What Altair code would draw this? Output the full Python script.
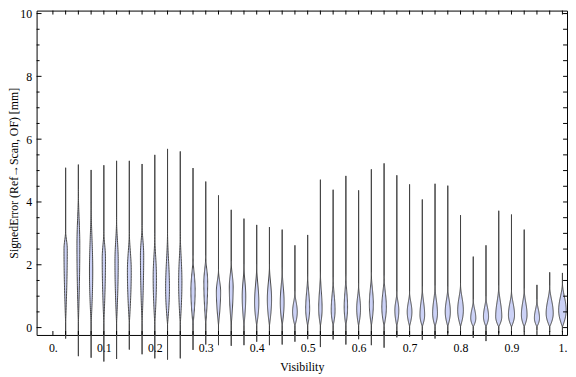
import numpy as np
import pandas as pd
import altair as alt

# ---- data ----
visibility = [0.025, 0.05, 0.075, 0.1, 0.125, 0.15, 0.175, 0.2, 0.225, 0.25,
              0.275, 0.3, 0.325, 0.35, 0.375, 0.4, 0.425, 0.45, 0.475, 0.5,
              0.525, 0.55, 0.575, 0.6, 0.625, 0.65, 0.675, 0.7, 0.725, 0.75,
              0.775, 0.8, 0.825, 0.85, 0.875, 0.9, 0.925, 0.95, 0.975, 1.0]
err_max = [5.09, 5.19, 5.02, 5.17, 5.31, 5.31, 5.21, 5.50, 5.69, 5.61,
           5.08, 4.65, 4.21, 3.75, 3.47, 3.27, 3.20, 3.12, 2.62, 2.95,
           4.71, 4.39, 4.83, 4.37, 5.04, 5.23, 4.85, 4.56, 4.08, 4.58,
           4.52, 3.58, 2.26, 2.62, 3.72, 3.60, 3.12, 1.36, 1.76, 1.74]
err_min = [-0.35, -0.91, -0.96, -1.08, -1.00, -0.70, -0.85, -0.98, -1.02, -0.98,
           -0.71, -0.54, -0.56, -0.58, -0.56, -0.45, -0.56, -0.54, -0.45, -0.37,
           -0.62, -0.38, -0.54, -0.37, -0.56, -0.64, -0.31, -0.29, -0.39, -0.35,
           -0.18, -0.14, -0.33, -0.43, -0.18, -0.16, -0.12, -0.10, -0.14, -0.14]
body_low = [0.15, 0.12, 0.12, 0.12, 0.12, 0.12, 0.12, 0.10, 0.10, 0.10,
            0.08, 0.08, 0.08, 0.08, 0.06, 0.06, 0.06, 0.06, 0.05, 0.05,
            0.05, 0.05, 0.05, 0.05, 0.05, 0.04, 0.04, 0.04, 0.03, 0.03,
            0.03, 0.03, 0.02, 0.02, 0.02, 0.02, 0.02, 0.02, 0.02, 0.02]
body_mode = [2.5, 2.6, 1.8, 2.2, 2.1, 1.8, 2.3, 1.6, 1.25, 1.45,
             1.2, 1.45, 1.15, 1.3, 1.0, 0.8, 0.9, 0.8, 0.5, 0.6,
             0.6, 0.55, 0.65, 0.6, 0.75, 0.65, 0.55, 0.5, 0.4, 0.45,
             0.5, 0.55, 0.3, 0.35, 0.35, 0.4, 0.4, 0.3, 0.45, 0.55]
body_high = [3.1, 4.4, 4.0, 3.1, 3.5, 3.1, 3.3, 3.0, 3.1, 3.1,
             2.3, 2.3, 1.85, 2.1, 2.0, 2.0, 2.0, 1.9, 1.15, 1.7,
             1.8, 1.6, 1.7, 1.4, 1.75, 1.65, 1.15, 1.15, 1.3, 1.35,
             1.3, 1.4, 0.9, 1.0, 1.35, 1.2, 1.25, 0.9, 1.35, 1.45]
peak_density = [2.3, 2.0, 2.3, 2.3, 2.3, 2.7, 2.3, 2.3, 2.7, 2.3,
                3.0, 2.7, 3.0, 2.7, 2.5, 3.0, 3.0, 2.7, 3.3, 2.8,
                2.4, 2.7, 2.4, 2.7, 2.8, 3.2, 2.8, 3.3, 3.3, 3.4,
                3.6, 4.0, 3.6, 3.6, 4.3, 4.3, 4.0, 3.6, 5.0, 5.3]

x_label_values = [0.0, 0.1, 0.2, 0.3, 0.4, 0.5, 0.6, 0.7, 0.8, 0.9, 1.0]
y_label_values = [0, 2, 4, 6, 8, 10]
x_tick_values = [0.0] + visibility
y_major_ticks = [0, 2, 4, 6, 8, 10]
y_minor_ticks = [0.5, 1, 1.5, 2.5, 3, 3.5, 4.5, 5, 5.5, 6.5, 7, 7.5, 8.5, 9, 9.5]

# ---- layout / style ----
W, H = 538, 329
X_DOMAIN = [-0.032, 1.009]
Y_DOMAIN = [-0.235, 10.094]
WIDTH_FACTOR = 0.72                       # density -> drawn pixels
PX_TO_X = (X_DOMAIN[1] - X_DOMAIN[0]) / W
FONT = "Liberation Serif"
FILL = "#ccd2f7"
EDGE = "#444444"
N_SAMPLES = 60


def half_width(y, lo, m, hi, pk):
    if y <= lo or y >= hi:
        return 0.0
    if y <= m:
        return pk * np.sin(np.pi / 2 * (y - lo) / (m - lo))
    return pk * (0.5 + 0.5 * np.cos(np.pi * (y - m) / (hi - m)))


bodies = []
edges = []
for g in range(len(visibility)):
    p = visibility[g]
    b, t = err_min[g], err_max[g]
    lo, m, hi, pk = body_low[g], body_mode[g], body_high[g], peak_density[g]
    grid = np.linspace(lo, hi, N_SAMPLES + 1)
    for k, yv in enumerate(grid):
        hw_px = half_width(yv, lo, m, hi, pk) * WIDTH_FACTOR
        bodies.append({"g": g, "k": k, "v": yv, "p": p, "w": 2 * hw_px})
    outline = [b] + list(grid) + [t]
    for side, sgn in (("L", -1), ("R", 1)):
        for k, yv in enumerate(outline):
            hw = half_width(yv, lo, m, hi, pk) * WIDTH_FACTOR * PX_TO_X
            edges.append({"id": f"{g}{side}", "k": k, "v": yv, "x": p + sgn * hw})

body_df = pd.DataFrame(bodies)
edge_df = pd.DataFrame(edges)

xs = alt.Scale(domain=X_DOMAIN, nice=False, zero=False)
ys = alt.Scale(domain=Y_DOMAIN, nice=False, zero=False)

label_expr = "datum.value == 0 ? '0.' : (datum.value == 1 ? '1.' : format(datum.value, '.1f'))"
x_axis = alt.Axis(values=x_label_values, labelExpr=label_expr, ticks=False, tickSize=0,
                  domain=False, grid=False, labelPadding=8, labelFlush=False,
                  title="Visibility", titlePadding=8)
y_axis = alt.Axis(values=y_label_values, ticks=False, tickSize=0, domain=False, grid=False,
                  labelPadding=5, title="SignedError (Ref\u2192Scan, OF) [mm]",
                  titleX=-23, titleBaseline="middle")

fill_layer = alt.Chart(body_df).mark_trail(color=FILL, opacity=1).encode(
    x=alt.X("p:Q", scale=xs, axis=x_axis),
    y=alt.Y("v:Q", scale=ys, axis=y_axis),
    size=alt.Size("w:Q", scale=None, legend=None),
    detail="g:N",
    order="k:Q",
)
edge_layer = alt.Chart(edge_df).mark_line(color=EDGE, strokeWidth=1).encode(
    x=alt.X("x:Q", scale=xs, axis=x_axis),
    y=alt.Y("v:Q", scale=ys, axis=y_axis),
    detail="id:N",
    order="k:Q",
)

xt = pd.DataFrame({"t": x_tick_values})
ymaj = pd.DataFrame({"t": y_major_ticks})
ymin = pd.DataFrame({"t": y_minor_ticks})
yall = pd.DataFrame({"t": y_major_ticks + y_minor_ticks})

tick_style = dict(color="black", strokeWidth=1)
top_ticks = alt.Chart(xt).mark_rule(**tick_style).encode(
    x=alt.X("t:Q", scale=xs, axis=x_axis), y=alt.value(0), y2=alt.value(4))
bottom_ticks = alt.Chart(xt).mark_rule(**tick_style).encode(
    x=alt.X("t:Q", scale=xs, axis=x_axis), y=alt.value(H), y2=alt.value(H - 4))
left_major = alt.Chart(ymaj).mark_rule(**tick_style).encode(
    y=alt.Y("t:Q", scale=ys, axis=y_axis), x=alt.value(0), x2=alt.value(5))
left_minor = alt.Chart(ymin).mark_rule(**tick_style).encode(
    y=alt.Y("t:Q", scale=ys, axis=y_axis), x=alt.value(0), x2=alt.value(3))
right_ticks = alt.Chart(yall).mark_rule(**tick_style).encode(
    y=alt.Y("t:Q", scale=ys, axis=y_axis), x=alt.value(W), x2=alt.value(W - 4))

chart = alt.layer(
    fill_layer, edge_layer, top_ticks, bottom_ticks, left_major, left_minor, right_ticks
).properties(
    width=W, height=H,
    autosize=alt.AutoSizeParams(type="none"),
    padding={"left": 29, "top": 0, "right": 1, "bottom": 40},
).configure_view(
    stroke="black", strokeWidth=1
).configure_axis(
    labelFont=FONT, titleFont=FONT, labelFontSize=12, titleFontSize=12,
    titleFontWeight="normal", labelColor="black", titleColor="black"
)

chart.save("out.html", embed_options={"renderer": "svg", "actions": False})
